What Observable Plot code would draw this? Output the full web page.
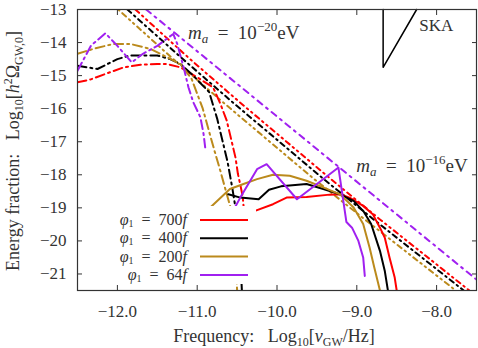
<!DOCTYPE html>
<html><head><meta charset="utf-8">
<script src="https://cdn.jsdelivr.net/npm/d3@7"></script>
<script src="https://cdn.jsdelivr.net/npm/@observablehq/plot@0.6"></script>
<style>
body{margin:0;background:#fff}
#chart{position:relative;width:478px;height:348px}
</style>
</head><body><div id="chart"></div>
<script>
// ---- data (Log10 frequency, Log10 energy fraction) ----
const xTicks = [-12, -11, -10, -9, -8];
const yTicks = [-13, -14, -15, -16, -17, -18, -19, -20, -21];
const phiLabels = ["700", "400", "200", "64"];

// solid (late-time) curves
const solid700 = [[-10.42,-19.2],[-10.275,-19.09],[-10.05,-18.89],[-9.88,-18.69],[-9.63,-18.67],[-9.34,-18.6],[-9.21,-18.59],[-9.09,-18.69],[-8.92,-18.94],[-8.8,-19.19],[-8.71,-19.6],[-8.65,-19.9],[-8.59,-20.5],[-8.525,-21.11],[-8.5,-21.5]];
const solid400 = [[-10.61,-18.59],[-10.46,-18.69],[-10.23,-18.74],[-10.1,-18.45],[-9.95,-18.35],[-9.63,-18.28],[-9.42,-18.43],[-9.21,-18.59],[-9.04,-18.79],[-8.92,-19.09],[-8.82,-19.49],[-8.71,-20.3],[-8.65,-20.9],[-8.61,-21.5]];
const solid200 = [[-11.1,-19.7],[-10.88,-19.09],[-10.59,-18.43],[-10.42,-18.28],[-10.25,-18.13],[-10.05,-18.0],[-9.84,-18.03],[-9.63,-18.18],[-9.42,-18.38],[-9.21,-18.59],[-9.04,-18.99],[-8.92,-19.49],[-8.84,-20.2],[-8.78,-20.81],[-8.71,-21.5]];
const solid64 = [[-10.62,-19.45],[-10.55,-19.09],[-10.46,-18.69],[-10.25,-17.83],[-10.13,-17.68],[-9.75,-18.74],[-9.5,-18.28],[-9.23,-17.78],[-9.13,-19.43],[-9.06,-19.6],[-8.98,-20.0],[-8.92,-20.5],[-8.9,-21.06]];

// dash-dot (early-time) curves
const dashdot700 = [[-12.5,-15.2],[-12.34,-15.12],[-12.13,-14.93],[-11.92,-14.75],[-11.71,-14.67],[-11.5,-14.65],[-11.38,-14.65],[-11.21,-14.75],[-11.0,-15.05],[-10.8,-15.36],[-10.71,-15.85],[-10.63,-16.36],[-10.57,-16.97],[-10.52,-17.48],[-10.49,-17.97],[-10.46,-18.3],[-10.43,-18.65],[-10.41,-19.2]];
const dashdot400 = [[-12.5,-14.7],[-12.25,-14.8],[-12.0,-14.5],[-11.84,-14.39],[-11.5,-14.39],[-11.34,-14.5],[-11.21,-14.65],[-11.05,-15.0],[-10.85,-15.5],[-10.75,-16.3],[-10.69,-16.9],[-10.62,-17.6],[-10.56,-18.4],[-10.52,-19.0],[-10.46,-20.5],[-10.44,-21.5]];
const dashdot200 = [[-12.5,-14.34],[-12.3,-14.19],[-12.05,-14.04],[-11.84,-14.04],[-11.59,-14.19],[-11.38,-14.44],[-11.21,-14.65],[-11.07,-15.1],[-10.93,-16.0],[-10.85,-16.7],[-10.78,-17.3],[-10.71,-17.88],[-10.63,-18.58],[-10.57,-19.09],[-10.52,-20.2],[-10.5,-21.5]];
const dashdot64 = [[-12.5,-14.85],[-12.33,-14.09],[-12.15,-13.72],[-12.0,-14.1],[-11.82,-14.6],[-11.68,-14.34],[-11.5,-14.1],[-11.3,-13.74],[-11.25,-14.04],[-11.17,-14.75],[-11.11,-15.35],[-11.05,-15.8],[-10.96,-16.26],[-10.92,-16.77],[-10.9,-17.17]];

// diagonal envelopes
const diag700 = [[-11.775,-13],[-11.09,-14.5],[-10.46,-15.82],[-9.34,-18.1],[-8.71,-19.35],[-7.59,-21.5]];
const diag400 = [[-11.875,-13],[-11.18,-14.5],[-10.55,-15.82],[-9.43,-18.1],[-8.79,-19.35],[-7.66,-21.5]];
const diag200 = [[-11.99,-13],[-11.3,-14.5],[-10.67,-15.82],[-9.55,-18.1],[-8.9,-19.35],[-7.76,-21.5]];
const diag64 = [[-11.64,-13],[-7.5,-21.17]];

// SKA sensitivity corner
const skaX = [-8.67, -8.67, -8.25];
const skaY = [-13, -14.75, -13];

// annotation anchors (data coords)
const annotations = [
  {x: -11.11, y: -13.91, exp: "−20"},
  {x: -9.0, y: -17.93, exp: "−16"}
];
const skaLabel = {x: -8.21, y: -13.67, text: "SKA"};

// ---- styling ----
const colors = ["#ff0000", "#000000", "#bb8a1c", "#a020f0"];
const solids = [solid700, solid400, solid200, solid64];
const dashdots = [dashdot700, dashdot400, dashdot200, dashdot64];
const diags = [diag700, diag400, diag200, diag64];
const diagDash = ["5,4,1.5,4,1.5,4", "5,4,1.5,4", "1.5,4,5,4,1.5,4", "6,5,2,5"];

const marks = [];
diags.forEach((d, i) => marks.push(Plot.line(d, {x: p => p[0], y: p => p[1], stroke: colors[i], strokeWidth: 2, strokeDasharray: diagDash[i], clip: true})));
dashdots.forEach((d, i) => marks.push(Plot.line(d, {x: p => p[0], y: p => p[1], stroke: colors[i], strokeWidth: 2, strokeDasharray: "9,4,2,4", clip: true})));
solids.forEach((d, i) => marks.push(Plot.line(d, {x: p => p[0], y: p => p[1], stroke: colors[i], strokeWidth: 2, clip: true})));
marks.push(Plot.line(skaX.map((x, i) => ({x, y: skaY[i]})), {x: "x", y: "y", stroke: "#000", strokeWidth: 1.5}));

const FONT = "'Liberation Serif', 'DejaVu Serif', serif";
const chart = Plot.plot({
  width: 478, height: 348,
  marginLeft: 77, marginRight: 2, marginTop: 9, marginBottom: 58,
  x: {domain: [-12.5, -7.5]},
  y: {domain: [-21.5, -13]},
  style: {fontFamily: FONT, fontSize: "16px", color: "#333", background: "#fff"},
  marks: [
    ...marks,
    Plot.axisX({ticks: xTicks, tickSize: -5, tickPadding: 19, label: null, fontSize: 17}),
    Plot.axisX({ticks: xTicks, anchor: "top", tickSize: -5, tickFormat: () => "", label: null}),
    Plot.axisY({ticks: yTicks, tickSize: -5, tickPadding: 16, label: null, fontSize: 17}),
    Plot.axisY({ticks: yTicks, anchor: "right", tickSize: -5, tickFormat: () => "", label: null}),
    Plot.frame({stroke: "#333", strokeWidth: 1.2})
  ]
});
document.getElementById("chart").appendChild(chart);

const svg = d3.select(chart);
const sx = v => chart.scale("x").apply(v);
const sy = v => chart.scale("y").apply(v);

// legend (opaque box)
const lg = svg.append("g");
lg.append("rect").attr("x", 100).attr("y", 206).attr("width", 156).attr("height", 78).attr("fill", "#fff");
phiLabels.forEach((lab, i) => {
  const cy = 220 + i * 18.3;
  const t = lg.append("text").attr("x", 187).attr("y", cy + 5).attr("text-anchor", "end")
    .attr("font-family", FONT).attr("font-size", 16).attr("fill", "#333");
  t.append("tspan").attr("font-style", "italic").text("φ");
  t.append("tspan").attr("font-size", 10).attr("dy", 2).text("1");
  t.append("tspan").attr("dy", -2).text("\u2002=\u2002" + lab);
  t.append("tspan").attr("font-style", "italic").text("f");
  lg.append("line").attr("x1", 200).attr("x2", 248).attr("y1", cy).attr("y2", cy)
    .attr("stroke", colors[i]).attr("stroke-width", 2);
});

// mass annotations
annotations.forEach(a => {
  const t = svg.append("text").attr("x", sx(a.x)).attr("y", sy(a.y)).attr("text-anchor", "start")
    .attr("font-family", FONT).attr("font-size", 19).attr("fill", "#333");
  t.append("tspan").attr("font-style", "italic").text("m");
  t.append("tspan").attr("font-style", "italic").attr("font-size", 13).attr("dy", 4).text("a");
  t.append("tspan").attr("dy", -4).text("\u2002=\u200210");
  t.append("tspan").attr("font-size", 13).attr("dy", -8).text(a.exp);
  t.append("tspan").attr("dy", 8).text("eV");
});
svg.append("text").attr("x", sx(skaLabel.x)).attr("y", sy(skaLabel.y)).attr("text-anchor", "start")
  .attr("font-family", FONT).attr("font-size", 17).attr("fill", "#333").text(skaLabel.text);

// axis titles
const xl = svg.append("text").attr("x", 274).attr("y", 342).attr("text-anchor", "middle")
  .attr("font-family", FONT).attr("font-size", 18).attr("fill", "#333");
xl.append("tspan").text("Frequency:\u2002 Log");
xl.append("tspan").attr("font-size", 12).attr("dy", 4).text("10");
xl.append("tspan").attr("dy", -4).text("[");
xl.append("tspan").attr("font-style", "italic").text("ν");
xl.append("tspan").attr("font-size", 12).attr("dy", 4).text("GW");
xl.append("tspan").attr("dy", -4).text("/Hz]");

const yl = svg.append("text").attr("transform", "translate(19,151) rotate(-90)").attr("text-anchor", "middle")
  .attr("font-family", FONT).attr("font-size", 18).attr("fill", "#333");
yl.append("tspan").text("Energy fraction:\u2002 Log");
yl.append("tspan").attr("font-size", 12).attr("dy", 4).text("10");
yl.append("tspan").attr("dy", -4).text("[");
yl.append("tspan").attr("font-style", "italic").text("h");
yl.append("tspan").attr("font-size", 12).attr("dy", -7).text("2");
yl.append("tspan").attr("dy", 7).text("Ω");
yl.append("tspan").attr("font-size", 12).attr("dy", 4).text("GW,0");
yl.append("tspan").attr("dy", -4).text("]");
</script>
</body></html>
